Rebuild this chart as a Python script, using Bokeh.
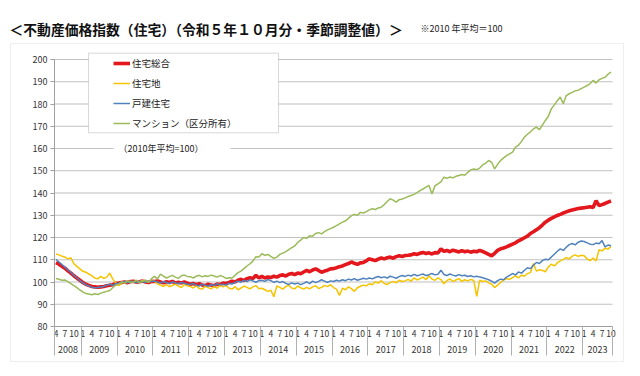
from bokeh.plotting import figure
from bokeh.models import (Range1d, FixedTicker, LinearAxis, Legend, LegendItem,
                          Label, BoxAnnotation)
from bokeh.embed import file_html
from bokeh.resources import INLINE

FONT = "Noto Sans CJK JP"

# ---- data: monthly, 2008-04 .. 2023-10 (2010 average = 100) ----
total = [
    108.7, 108.0, 107.0, 106.2, 105.0, 104.0, 102.8, 101.8, 100.8,
    99.8, 99.0, 98.5, 98.0, 97.8, 97.6, 97.8, 98.0, 98.3, 98.5, 98.8, 99.3,
    99.5, 99.8, 100.0, 99.7, 100.2, 100.3, 99.9, 100.1, 100.4, 100.0, 99.8, 100.3,
    100.2, 100.5, 100.0, 99.6, 100.1, 99.8, 100.3, 99.5, 99.9, 99.6, 100.0, 99.4,
    99.0, 99.3, 98.8, 99.2, 98.7, 98.4, 99.0, 98.6, 98.3, 99.1, 98.8, 99.5,
    99.3, 99.8, 100.4, 100.0, 100.8, 101.2, 100.7, 101.5, 101.9, 101.6, 103.0, 101.8,
    102.5, 101.8, 102.3, 102.0, 102.6, 102.2, 102.9, 103.2, 102.7, 103.5, 103.8, 103.3,
    104.0, 103.7, 104.5, 105.2, 104.6, 105.4, 105.9, 105.2, 104.4, 104.9, 105.3, 105.9,
    106.0, 106.4, 106.9, 107.2, 107.8, 108.3, 109.0, 108.4, 107.9, 108.6, 108.8, 109.5,
    110.4, 110.0, 109.6, 110.3, 110.8, 110.4, 110.9, 111.2, 110.7, 111.4, 111.8, 111.5,
    111.9, 112.0, 112.2, 112.7, 112.4, 112.9, 113.3, 112.8, 113.1, 112.6, 113.2, 113.0,
    114.9, 113.8, 114.2, 113.6, 114.3, 113.9, 113.5, 114.1, 113.6, 113.9, 113.4, 113.8,
    113.6, 114.2, 113.7, 113.1, 112.4, 111.8, 112.9, 114.2, 114.9, 115.3, 115.8, 116.4,
    117.0, 117.6, 118.5, 119.2, 119.9, 120.6, 121.8, 122.6, 123.5, 124.4, 125.6, 126.9,
    127.8, 128.6, 129.3, 129.9, 130.4, 131.0, 131.5, 132.0, 132.4, 132.7, 133.0, 133.2,
    133.4, 133.6, 133.8, 133.5, 136.5, 134.3, 134.8, 135.3, 135.9, 136.4,
]
land = [
    112.6, 112.2, 111.6, 111.2, 110.4, 110.9, 108.2, 107.0, 105.9,
    104.8, 104.4, 103.6, 102.9, 101.8, 101.4, 102.5, 101.6, 102.2, 104.0, 101.4, 99.6,
    98.3, 99.5, 100.1, 99.8, 100.4, 100.0, 99.7, 100.3, 100.6, 100.2, 100.0, 100.5,
    100.3, 99.2, 98.6, 98.0, 98.8, 97.9, 98.4, 99.1, 98.2, 97.5, 98.9, 98.3,
    98.0, 97.3, 98.4, 97.1, 96.8, 98.2, 97.5, 96.9, 98.0, 97.2, 98.6, 97.8,
    98.5, 97.2, 96.8, 97.9, 96.5, 97.3, 98.2, 97.6, 96.9, 97.8, 98.4, 97.0,
    97.2, 96.5, 95.8, 96.3, 93.4, 98.2, 97.6, 96.8, 97.9, 98.5, 97.3, 96.9,
    98.2, 97.4, 96.8, 97.6, 96.9, 97.8, 98.3, 97.1, 97.6, 98.5, 97.9, 98.8,
    97.5, 96.8, 94.0, 97.2, 96.5, 97.8, 97.0, 95.8, 97.4, 98.1, 98.6, 98.3,
    99.2, 98.8, 100.1, 99.5, 100.6, 99.3, 98.9, 99.7, 100.3, 99.6, 100.8, 100.2,
    100.5, 101.2, 100.4, 101.8, 100.9, 101.5, 102.2, 101.0, 102.8, 101.3, 100.8, 101.9,
    101.1, 99.2, 100.6, 101.4, 100.2, 100.9, 101.5, 100.3, 101.0, 100.5, 101.2, 100.7,
    93.5, 100.8, 100.2, 100.5, 99.6, 99.0, 97.5, 98.6, 99.8, 100.9, 101.5, 101.2,
    102.0, 102.8, 101.9, 103.1, 102.6, 103.8, 104.2, 108.3, 104.9, 105.5, 105.2, 104.6,
    106.8, 108.0, 107.2, 108.6, 109.5, 110.2, 111.0, 110.4, 111.6, 112.2, 111.5, 112.0,
    111.8, 110.4, 109.6, 110.8, 109.5, 114.5, 114.0, 115.2, 114.8, 116.0,
]
house = [
    110.2, 109.0, 107.8, 106.7, 105.4, 104.3, 103.0, 101.9, 100.6,
    99.6, 98.8, 98.2, 97.7, 97.4, 97.5, 97.8, 98.0, 98.6, 99.0, 98.5, 99.2,
    99.4, 99.8, 100.2, 99.6, 100.3, 100.1, 99.7, 100.4, 100.1, 99.9, 100.3, 100.2,
    100.4, 100.0, 99.5, 100.2, 99.8, 99.3, 100.0, 99.6, 99.2, 99.8, 99.4, 99.0,
    98.9, 99.4, 98.6, 98.2, 99.0, 98.5, 98.1, 98.8, 98.4, 99.2, 98.7, 99.0,
    98.6, 99.5, 99.0, 99.8, 100.4, 99.9, 100.7, 100.2, 101.0, 100.5, 99.9, 100.6,
    100.8, 100.3, 101.1, 100.6, 99.8, 100.4, 99.7, 100.2, 99.4, 98.9, 99.6, 99.1,
    99.5, 98.8, 99.4, 100.1, 99.3, 100.4, 99.7, 100.3, 101.0, 100.4, 99.8, 100.5,
    100.2, 100.8, 100.4, 101.0, 100.6, 101.3, 100.9, 101.5, 100.8, 101.2, 101.7, 101.3,
    101.8, 101.4, 102.0, 102.5, 101.9, 102.3, 101.8, 102.6, 102.2, 101.7, 102.4, 102.9,
    102.5, 103.1, 102.7, 103.4, 102.8, 103.2, 103.6, 102.9, 103.3, 103.8, 103.2, 103.5,
    105.3, 103.4, 102.9, 103.6, 103.1, 102.7, 103.3, 102.8, 103.0, 102.5, 102.8, 102.3,
    102.6, 102.2, 101.9, 101.5, 101.0, 100.4, 99.5, 100.6, 101.3, 101.0, 102.2, 103.0,
    103.8, 103.2, 104.5, 104.0, 105.3, 106.4, 106.0, 107.5, 108.8, 108.3, 109.6, 110.2,
    110.0, 111.2, 112.5, 113.8, 114.9, 114.2, 115.6, 116.8, 117.3, 116.7, 117.9, 118.4,
    118.2, 117.6, 117.0, 116.8, 117.5, 117.2, 118.6, 115.8, 116.6, 116.3,
]
condo = [
    101.6, 101.2, 100.8, 100.9, 100.2, 99.3, 98.4, 97.5, 96.4,
    95.6, 94.8, 94.6, 94.3, 94.7, 94.4, 95.0, 95.4, 95.8, 96.2, 97.4, 98.6,
    99.0, 100.2, 99.4, 100.6, 99.7, 100.1, 100.8, 99.6, 100.3, 100.9, 99.8, 101.5,
    102.5, 101.4, 103.5, 102.6, 101.8, 102.4, 103.0, 102.2, 101.6, 102.8, 103.1, 102.5,
    102.4, 101.8, 102.6, 103.0, 102.3, 102.8, 102.5, 103.1, 102.7, 102.2, 102.9, 102.4,
    101.6, 101.9, 101.8, 103.0, 104.2, 104.9, 106.0, 107.2, 108.2, 109.4, 111.4, 111.2,
    112.7, 112.0, 112.4, 111.5, 110.6, 111.2, 112.4, 113.0, 113.6, 114.5, 115.4, 116.2,
    117.8, 118.8, 120.0, 119.6, 120.8, 120.6, 121.8, 122.2, 121.6, 122.6, 123.4, 124.0,
    124.6, 125.3, 126.1, 126.9, 127.4, 128.6, 129.8, 130.4, 130.0, 131.3, 131.0, 131.6,
    132.4, 132.9, 132.6, 133.3, 133.6, 134.8, 136.2, 137.4, 136.8, 135.9, 137.0, 137.3,
    137.8, 138.4, 138.9, 139.4, 140.2, 141.1, 141.8, 142.6, 143.4, 139.6, 143.2, 144.1,
    145.0, 147.1, 146.6, 147.2, 146.8, 147.5, 147.9, 148.3, 148.0, 149.3, 150.4, 150.8,
    150.5, 151.2, 152.6, 153.4, 154.6, 153.8, 150.8, 152.9, 154.6, 155.8, 156.8, 157.6,
    158.4, 160.6, 161.5, 163.2, 165.1, 166.4, 167.5, 168.8, 169.6, 168.4, 170.5, 172.6,
    174.5, 177.8, 179.6, 181.5, 183.1, 180.1, 183.8, 184.6, 185.2, 185.9, 186.2, 186.9,
    187.6, 188.3, 189.2, 190.6, 189.4, 190.9, 191.5, 192.0, 193.4, 194.3,
]
series_names = ["住宅総合", "住宅地", "戸建住宅", "マンション（区分所有）"]
years = ["2008", "2009", "2010", "2011", "2012", "2013", "2014", "2015",
         "2016", "2017", "2018", "2019", "2020", "2021", "2022", "2023"]
month_tick_labels = ["1", "4", "7", "10"]
y_ticks = [80, 90, 100, 110, 120, 130, 140, 150, 160, 170, 180, 190, 200]
first_month = 4  # data begins in April 2008

n = len(total)
xs = [i + 0.5 for i in range(n)]
months = [(first_month - 1 + i) % 12 + 1 for i in range(n)]

month_ticks, month_over = [], {}
for i, m in enumerate(months):
    if str(m) in month_tick_labels:
        month_ticks.append(i + 0.5)
        month_over[i + 0.5] = str(m)

bounds = [0] + [i for i, m in enumerate(months) if m == 1 and i > 0] + [n]
year_centers = [(bounds[k] + bounds[k + 1]) / 2 for k in range(len(years))]
year_over = {c: y for c, y in zip(year_centers, years)}
blank_over = {b: "" for b in bounds}

# ---- figure: frame covers whole canvas; axes drawn at fixed locations ----
W, H = 640, 376
PX0, PX1 = 54, 612      # plot area in canvas px (x)
PY0, PY1 = 59, 326      # plot area in canvas px (y, top/bottom)
y_lo, y_hi = y_ticks[0], y_ticks[-1]
sx = (PX1 - PX0) / n
sy = (PY1 - PY0) / (y_hi - y_lo)
x_range = Range1d(-PX0 / sx, n + (W - PX1) / sx)
y_range = Range1d(y_lo - (H - PY1) / sy, y_hi + PY0 / sy)

p = figure(width=W, height=H, x_range=x_range, y_range=y_range,
           x_axis_type=None, y_axis_type=None,
           output_backend="svg", toolbar_location=None,
           min_border_left=0, min_border_right=0, min_border_top=0, min_border_bottom=0)
p.outline_line_color = None
p.background_fill_color = "white"
p.border_fill_color = "white"

def box(l, r, t, b, **kw):
    return BoxAnnotation(left=l, right=r, top=H - t, bottom=H - b,
                         left_units="screen", right_units="screen",
                         top_units="screen", bottom_units="screen", **kw)

# outer chart border
p.add_layout(box(10, 623, 43, 361, fill_alpha=0, line_color="#c8c8c8",
                 line_width=1, level="underlay"))

# horizontal grid lines at the y ticks
p.segment(x0=[0] * len(y_ticks), x1=[n] * len(y_ticks), y0=y_ticks, y1=y_ticks,
          line_color="#c0c0c0", line_width=1.2)

# lines
colors = ["#E3171C", "#F5C400", "#4F81BD", "#9BBB59"]
widths = [3.6, 1.5, 1.5, 1.5]
renderers = []
for vals, c, w in zip([total, land, house, condo], colors, widths):
    renderers.append(p.line(xs, vals, line_color=c, line_width=w))

# y axis
yax = LinearAxis(ticker=FixedTicker(ticks=y_ticks), fixed_location=0, bounds=(y_lo, y_hi),
                 axis_line_color="#a0a0a0", major_tick_line_color="#a0a0a0",
                 major_tick_out=4, major_tick_in=0, minor_tick_line_color=None,
                 major_label_standoff=3, major_label_text_font=FONT,
                 major_label_text_font_size="9px", major_label_text_color="#333333")
p.add_layout(yax, "left")

# x axis: month labels
xax = LinearAxis(ticker=FixedTicker(ticks=month_ticks), fixed_location=y_lo, bounds=(0, n),
                 major_label_overrides=month_over,
                 axis_line_color="#a0a0a0", major_tick_line_color=None,
                 major_tick_out=0, major_tick_in=0, minor_tick_line_color=None,
                 major_label_standoff=3, major_label_text_font=FONT,
                 major_label_text_font_size="8.5px", major_label_text_color="#333333")
p.add_layout(xax, "below")

# year separators
sep = LinearAxis(ticker=FixedTicker(ticks=bounds), fixed_location=y_lo, bounds=(0, n),
                 major_label_overrides=blank_over, major_label_text_alpha=0,
                 axis_line_color=None, major_tick_line_color="#b0b0b0",
                 major_tick_out=29, major_tick_in=0, minor_tick_line_color=None)
p.add_layout(sep, "below")

# year labels
yrax = LinearAxis(ticker=FixedTicker(ticks=year_centers), fixed_location=y_lo, bounds=(0, n),
                  major_label_overrides=year_over,
                  axis_line_color=None, major_tick_line_color=None, minor_tick_line_color=None,
                  major_tick_out=0, major_tick_in=0,
                  major_label_standoff=19, major_label_text_font=FONT,
                  major_label_text_font_size="9px", major_label_text_color="#333333")
p.add_layout(yrax, "below")

# legend box + legend
p.add_layout(box(88, 278, 52.7, 132.3, fill_color="white", fill_alpha=1,
                 line_color="#808080", line_width=1))
legend = Legend(items=[LegendItem(label=nm, renderers=[r]) for nm, r in zip(series_names, renderers)],
                location=(113, H - 129.7), padding=0, margin=0, spacing=6,
                label_height=14, glyph_height=14, glyph_width=17, label_standoff=2,
                background_fill_alpha=0, border_line_color=None,
                label_text_font=FONT, label_text_font_size="9.5px", label_text_color="#222222")
p.add_layout(legend, "center")

# note with white background
p.add_layout(box(113, 230, 142, 154, fill_color="white", fill_alpha=1, line_color=None))
p.add_layout(Label(x=118, y=H - 148, x_units="screen", y_units="screen",
                   text="（2010年平均=100）", text_baseline="middle",
                   text_font=FONT, text_font_size="9px", text_color="#222222"))

# titles
p.add_layout(Label(x=9, y=H - 28, x_units="screen", y_units="screen",
                   text="＜不動産価格指数（住宅）（令和５年１０月分・季節調整値）＞",
                   text_baseline="middle", text_font=FONT, text_font_style="bold",
                   text_font_size="13.8px", text_color="#111111"))
p.add_layout(Label(x=420, y=H - 28, x_units="screen", y_units="screen",
                   text="※2010 年平均＝100", text_baseline="middle",
                   text_font=FONT, text_font_size="9px", text_color="#222222"))

open("out.html", "w").write(file_html(p, INLINE))
